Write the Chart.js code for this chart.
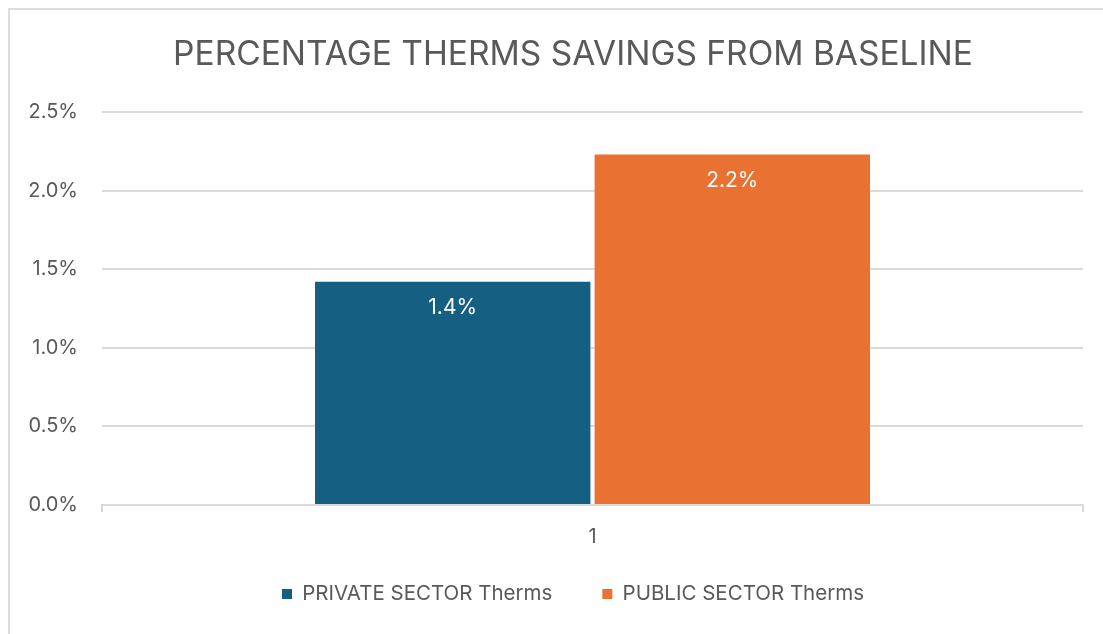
<!DOCTYPE html>
<html>
<head>
<meta charset="utf-8">
<script src="https://cdn.jsdelivr.net/npm/chart.js@4.4.1/dist/chart.umd.min.js"></script>
<style>
  body { margin: 0; background: #fff; overflow: hidden; }
  #wrap { position: relative; width: 1103px; height: 634px; overflow: hidden; }
  #frame { position: absolute; left: 8px; top: 8px; width: 1128px; height: 700px; border: 2px solid #dcdcdc; }
  #myBarChart { position: absolute; left: 0; top: 0; }
</style>
</head>
<body>
<div id="wrap">
  <div id="frame"></div>
  <canvas id="myBarChart" width="1140" height="634"></canvas>
</div>
<script>
const categories = ['1'];
const seriesNames = ['PRIVATE SECTOR Therms', 'PUBLIC SECTOR Therms'];
const privateValues = [1.42];
const publicValues = [2.23];
const valueLabels = ['1.4%', '2.2%'];
const yTicks = ['0.0%', '0.5%', '1.0%', '1.5%', '2.0%', '2.5%'];

const textColor = '#595959';
const gridColor = '#d9d9d9';
const fontName = 'Inter, Roboto, sans-serif';

// white value label just under the top of each bar
const barLabels = {
    id: 'bar_value_labels',
    afterDatasetsDraw: (chart) => {
        const ctx = chart.ctx;
        ctx.save();
        ctx.fillStyle = '#ffffff';
        ctx.font = '21px ' + fontName;
        ctx.textAlign = 'center';
        ctx.textBaseline = 'middle';
        chart.data.datasets.forEach((ds, i) => {
            chart.getDatasetMeta(i).data.forEach((bar) => {
                ctx.fillText(valueLabels[i], bar.x, bar.y + 26);
            });
        });
        ctx.restore();
    }
};

const bar = document.getElementById('myBarChart');
const myBar = new Chart(bar, {
    type: 'bar',
    data: {
        labels: categories,
        datasets: [{
            label: seriesNames[0],
            data: privateValues,
            backgroundColor: '#156082',
            categoryPercentage: 0.57,
            barPercentage: 0.985,
        },
        {
            label: seriesNames[1],
            data: publicValues,
            backgroundColor: '#e97132',
            categoryPercentage: 0.57,
            barPercentage: 0.985,
        }]
    },
    options: {
        responsive: false,
        animation: false,
        layout: {
            padding: {left: 8, right: 2, top: 16, bottom: 19.75}
        },
        plugins: {
            title: {
                display: true,
                text: 'PERCENTAGE THERMS SAVINGS FROM BASELINE',
                color: textColor,
                font: {family: fontName, size: 33.5, weight: 'normal'},
                padding: {top: 19, bottom: 36.8},
            },
            legend: {
                position: 'bottom',
                labels: {
                    color: textColor,
                    font: {family: fontName, size: 20.5},
                    boxWidth: 10,
                    boxHeight: 10,
                    padding: 50,
                }
            },
            tooltip: {enabled: false},
        },
        scales: {
            x: {
                offset: true,
                afterFit: (scale) => { scale.height = 28.75; },
                grid: {
                    offset: true,
                    drawOnChartArea: false,
                    drawTicks: true,
                    tickLength: 7,
                    color: gridColor,
                    lineWidth: 2,
                },
                border: {color: gridColor, width: 2},
                ticks: {
                    color: textColor,
                    font: {family: fontName, size: 20},
                    mirror: true,
                    padding: -44,
                }
            },
            y: {
                min: 0,
                max: 2.5,
                afterFit: (scale) => { scale.width = 94; },
                afterBuildTicks: (scale) => {
                    scale.ticks = yTicks.map((t) => ({value: parseFloat(t)}));
                },
                grid: {
                    color: gridColor,
                    lineWidth: 2,
                    drawTicks: false,
                },
                border: {display: false},
                ticks: {
                    color: textColor,
                    font: {family: fontName, size: 20},
                    padding: 24,
                    callback: (v) => v.toFixed(1) + '%',
                }
            },
            // empty right-hand margin so the title and legend centre like the original
            yRight: {
                position: 'right',
                afterFit: (scale) => { scale.width = 55; },
                grid: {display: false},
                border: {display: false},
                ticks: {display: false},
            }
        }
    },
    plugins: [barLabels],
});
</script>
</body>
</html>
